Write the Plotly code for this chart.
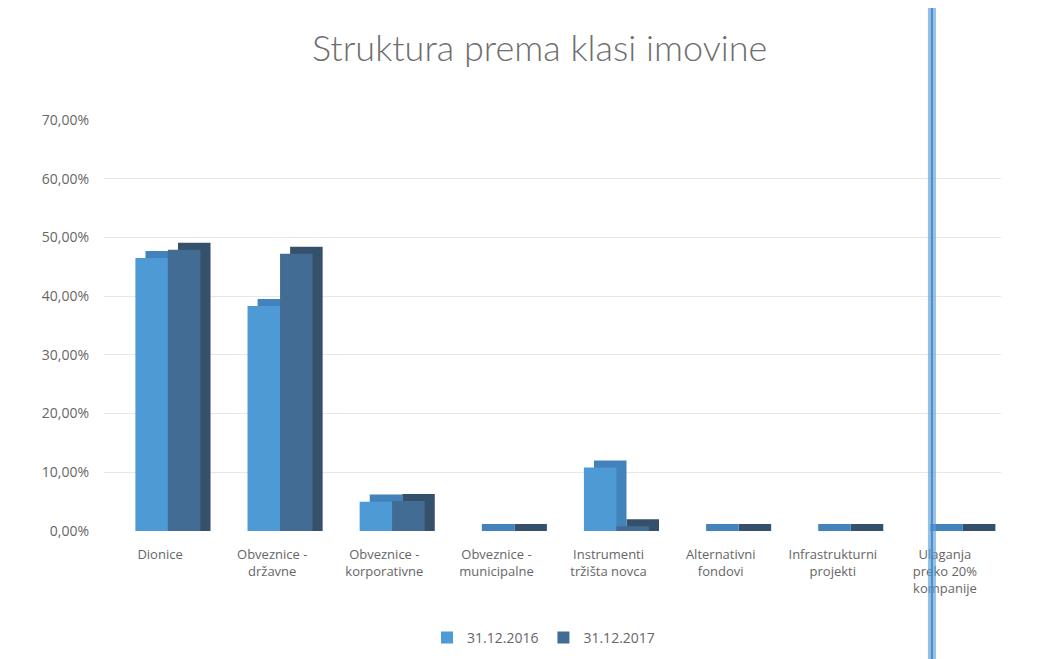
import plotly.graph_objects as go

categories = ["Dionice", "Obveznice -<br>državne", "Obveznice -<br>korporativne",
              "Obveznice -<br>municipalne", "Instrumenti<br>tržišta novca",
              "Alternativni<br>fondovi", "Infrastrukturni<br>projekti",
              "Ulaganja<br>preko 20%<br>kompanije"]
series_names = ["31.12.2016", "31.12.2017"]
values_2016 = [0.465, 0.383, 0.050, 0.0, 0.108, 0.0, 0.0, 0.0]
values_2017 = [0.479, 0.472, 0.051, 0.0, 0.008, 0.0, 0.0, 0.0]
y_ticks = [0, 0.1, 0.2, 0.3, 0.4, 0.5, 0.6, 0.7]

front_colors = ["#4d9ad4", "#436c94"]
depth_colors = ["#4283bb", "#34506b"]
bar_w = 0.29
offsets = [-0.22, 0.07]
dx, dy = 0.09, 0.012

fig = go.Figure()
# depth (top/side faces) drawn first
for vals, off, col in [(values_2017, offsets[1], depth_colors[1]),
                       (values_2016, offsets[0], depth_colors[0])]:
    fig.add_trace(go.Bar(x=categories, y=[v + dy for v in vals], offset=off + dx,
                         width=bar_w, marker=dict(color=col, line=dict(width=0)),
                         showlegend=False, hoverinfo="skip"))
for name, vals, off, col in zip(series_names, [values_2016, values_2017], offsets, front_colors):
    fig.add_trace(go.Bar(x=categories, y=vals, offset=off, width=bar_w, name=name,
                         marker=dict(color=col, line=dict(width=0))))

fig.update_layout(
    width=1059, height=659,
    barmode="overlay",
    paper_bgcolor="white", plot_bgcolor="white",
    separators=",.",
    margin=dict(l=96, r=66, t=112, b=136),
    title=dict(text="Struktura prema klasi imovine", x=0.502, xanchor="center",
               y=0.939, yanchor="middle",
               font=dict(family="Lato", size=36, color="#6e6e6e", weight=300)),
    font=dict(family="Open Sans", color="#6a6a6a", size=13),
    xaxis=dict(showgrid=False, showline=False, ticks="", ticklabelstandoff=14,
               tickfont=dict(size=13, color="#666666")),
    yaxis=dict(range=[0, 0.7], tickvals=y_ticks, tickformat=".2%",
               showgrid=True, gridcolor="#e8e8e8", zeroline=False, showline=False,
               ticks="", ticklabelstandoff=14, tickfont=dict(size=14, color="#666666")),
    legend=dict(orientation="h", x=0.49, xanchor="center", y=-0.26, yanchor="middle",
                font=dict(size=14, color="#666666"), itemwidth=30, traceorder="normal"),
    shapes=[dict(type="line", xref="paper", yref="paper", x0=0.923, x1=0.923,
                 y0=-0.36, y1=1.30, line=dict(color="rgba(90,160,215,0.65)", width=8)),
            dict(type="line", xref="paper", yref="paper", x0=0.923, x1=0.923,
                 y0=-0.36, y1=1.30, line=dict(color="rgba(60,130,200,0.8)", width=2))],
)

fig.write_html("out.html")
